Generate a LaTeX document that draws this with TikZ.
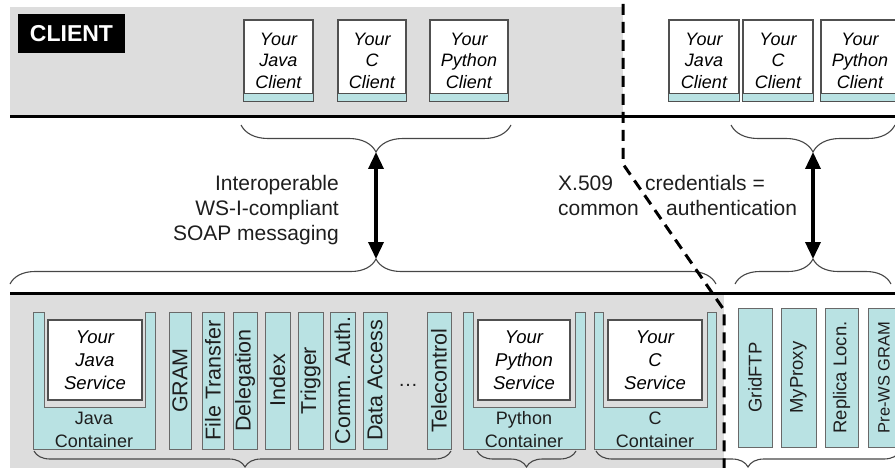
\documentclass[tikz,border=0pt]{standalone}
\usepackage{fontspec}
\setmainfont{Liberation Sans}
\usetikzlibrary{arrows.meta,decorations.pathreplacing}
\definecolor{bggray}{RGB}{221,221,221}
\definecolor{cyanc}{RGB}{185,226,227}
\definecolor{edgegray}{RGB}{105,105,105}
\definecolor{boxedge}{RGB}{80,80,80}
\definecolor{txt}{RGB}{30,30,30}
\definecolor{bracec}{RGB}{70,70,70}
\newcommand\fs[2]{\fontsize{#1}{#2}\selectfont}
\tikzset{
 clientbox/.style={draw=boxedge, fill=white, line width=1.1pt, font=\fs{18}{21.5}\itshape, align=center, inner sep=0pt},
 cstrip/.style={draw=boxedge, fill=cyanc, line width=1.1pt},
 cyanbar/.style={draw=edgegray, fill=cyanc, line width=0.9pt, inner sep=0pt, text=txt},
 lbartxt/.style={cyanbar, rotate=90, font=\fs{21.5}{24}},
 rbartxt/.style={cyanbar, rotate=90, font=\fs{18.5}{22}},
 whitebox/.style={draw=boxedge, fill=white, line width=1.4pt, font=\fs{18.5}{23}\itshape, align=center, inner sep=0pt},
 conttxt/.style={font=\fs{18}{23}, align=center, text=txt, inner sep=0pt},
 midtxt/.style={font=\fs{21}{25}, text=txt, inner sep=0pt},
 sepline/.style={line width=3pt, black},
 dashline/.style={line width=3pt, black, dash pattern=on 11pt off 7pt},
 bracedeco/.style={draw=bracec, line width=1.1pt, decorate, decoration={brace, amplitude=#1}},
 dblarrow/.style={line width=3.5pt, black, {Triangle[length=17pt,width=15pt]}-{Triangle[length=17pt,width=15pt]}},
}
\begin{document}
\begin{tikzpicture}[x=1pt,y=-1pt]
\useasboundingbox (0,0) rectangle (895,468);
\clip (0,0) rectangle (895,468);
% backgrounds
\fill[bggray] (10,7) rectangle (623,117);
\fill[bggray] (10,293) rectangle (724,468);
% separator lines
\draw[sepline] (10,117) -- (900,117);
\draw[sepline] (10,293) -- (900,293);
% CLIENT label
\node[fill=black, text=white, font=\fs{23}{26}\bfseries, minimum width=107pt, minimum height=39pt, inner sep=0pt] (clientlbl) at (71.5,33.5) {CLIENT};
% client boxes, left group
\node[clientbox, minimum width=69pt, minimum height=81pt] (jcl) at (278.5,60.5) {Your\\Java\\Client};
\draw[cstrip] ([yshift=8pt]jcl.south west) rectangle (jcl.south east);
\node[clientbox, minimum width=68pt, minimum height=81pt] (ccl) at (372,60.5) {Your\\C\\Client};
\draw[cstrip] ([yshift=8pt]ccl.south west) rectangle (ccl.south east);
\node[clientbox, minimum width=78pt, minimum height=81pt] (pcl) at (469,60.5) {Your\\Python\\Client};
\draw[cstrip] ([yshift=8pt]pcl.south west) rectangle (pcl.south east);
% client boxes, right group
\node[clientbox, minimum width=70pt, minimum height=81pt] (jcr) at (704,60.5) {Your\\Java\\Client};
\draw[cstrip] ([yshift=8pt]jcr.south west) rectangle (jcr.south east);
\node[clientbox, minimum width=70pt, minimum height=81pt] (ccr) at (778,60.5) {Your\\C\\Client};
\draw[cstrip] ([yshift=8pt]ccr.south west) rectangle (ccr.south east);
\node[clientbox, minimum width=78pt, minimum height=81pt] (pcr) at (860,60.5) {Your\\Python\\Client};
\draw[cstrip] ([yshift=8pt]pcr.south west) rectangle (pcr.south east);
% braces in the middle band
\draw[bracedeco=27pt] (511,125) -- (241,125);
\draw[bracedeco=27pt] (895,125) -- (731,125);
\draw[bracedeco=25pt, decoration={aspect=0.5184}] (10,284) -- (716,284);
\draw[bracedeco=25pt] (735,284) -- (891,284);
\coordinate (tlt) at (376,152);
\coordinate (blt) at (376,259);
\coordinate (trt) at (813,152);
\coordinate (brt) at (813,259);
\draw[dblarrow] (tlt) -- (blt);
\draw[dblarrow] (trt) -- (brt);
% middle texts
\node[midtxt, align=right, anchor=east] (interop) at (339,210) {Interoperable\\WS-I-compliant\\SOAP messaging};
\node[midtxt, anchor=base west] (x509) at (558,190.5) {X.509};
\node[midtxt, anchor=base west] (common) at (558,215.5) {common};
\node[midtxt, anchor=base west] (cred) at (645,190.5) {credentials =};
\node[midtxt, anchor=base west] (auth) at (666,215.5) {authentication};
% containers
\draw[cyanbar] (33,312) -- (33,449) -- (155,449) -- (155,312) -- (145,312) -- (145,407) -- (44,407) -- (44,312) -- cycle;
\node[whitebox, minimum width=94pt, minimum height=80pt] (jsvc) at (95,360) {Your\\Java\\Service};
\node[conttxt] (jcont) at (94,430) {Java\\Container};
\draw[cyanbar] (463,312) -- (463,449) -- (585,449) -- (585,312) -- (575,312) -- (575,407) -- (473,407) -- (473,312) -- cycle;
\node[whitebox, minimum width=92pt, minimum height=80pt] (psvc) at (524,360) {Your\\Python\\Service};
\node[conttxt] (pcont) at (524,430) {Python\\Container};
\draw[cyanbar] (594,312) -- (594,449) -- (716,449) -- (716,312) -- (707,312) -- (707,407) -- (603,407) -- (603,312) -- cycle;
\node[whitebox, minimum width=94pt, minimum height=80pt] (csvc) at (655,360) {Your\\C\\Service};
\node[conttxt] (ccont) at (655,430) {C\\Container};
% service bars (left)
\node[lbartxt, minimum width=137pt, minimum height=22pt] (gram) at (180,380.5) {GRAM};
\node[lbartxt, minimum width=137pt, minimum height=22pt] (ftrans) at (213,380.5) {File Transfer};
\node[lbartxt, minimum width=137pt, minimum height=24pt] (deleg) at (245,380.5) {Delegation};
\node[lbartxt, minimum width=137pt, minimum height=25pt] (index) at (277.5,380.5) {Index};
\node[lbartxt, minimum width=137pt, minimum height=25pt] (trigger) at (310.5,380.5) {Trigger};
\node[lbartxt, minimum width=137pt, minimum height=25pt] (commauth) at (342.5,380.5) {Comm. Auth.};
\node[lbartxt, minimum width=137pt, minimum height=24pt] (dacc) at (375,380.5) {Data Access};
\node[font=\fs{20}{24}, text=txt, inner sep=0pt, anchor=base] (dots) at (408,386) {…};
\node[lbartxt, minimum width=137pt, minimum height=24pt] (telec) at (439,380.5) {Telecontrol};
% right bars
\node[rbartxt, minimum width=139pt, minimum height=34pt] (gridftp) at (755,377.5) {GridFTP};
\node[rbartxt, minimum width=139pt, minimum height=35pt] (myproxy) at (798.5,377.5) {MyProxy};
\node[rbartxt, minimum width=139pt, minimum height=33pt] (replica) at (841.5,377.5) {Replica Locn.};
\node[rbartxt, minimum width=139pt, minimum height=32pt, font=\fs{16.5}{20}] (prews) at (884,377.5) {Pre-WS GRAM};
% lower braces
\draw[bracedeco=16pt, decoration={aspect=0.494}] (451,451) -- (34,451);
\draw[bracedeco=16pt] (576,451) -- (477,451);
\draw[bracedeco=16pt] (900,451) -- (596,451);
% security boundary
\draw[dashline] (623,4) -- (623,164) -- (724,310) -- (724,470);
\end{tikzpicture}
\end{document}
